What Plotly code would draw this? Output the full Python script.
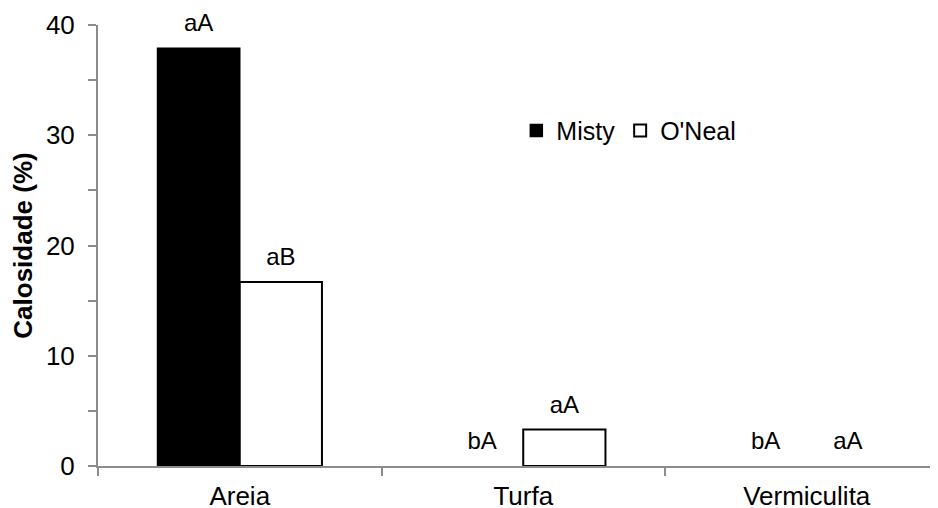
import plotly.graph_objects as go

categories = ["Areia", "Turfa", "Vermiculita"]
misty = [37.9, 0, 0]
oneal = [16.7, 3.3, 0]
misty_labels = ["aA", "bA", "bA"]
oneal_labels = ["aB", "aA", "aA"]

FONT = "Liberation Sans, Arial, sans-serif"
GAP = 0.42
AXIS_COLOR = "#8c8c8c"

# hide outlines of zero-height bars (as in the reference)
misty_lw = [1.5 if v > 0 else 0 for v in misty]
oneal_lw = [2 if v > 0 else 0 for v in oneal]

fig = go.Figure()
fig.add_trace(go.Bar(
    x=categories, y=misty, name="Misty", offsetgroup="m",
    marker=dict(color="black", line=dict(color="black", width=misty_lw)),
))
fig.add_trace(go.Bar(
    x=categories, y=oneal, name="O'Neal", offsetgroup="o",
    marker=dict(color="white", line=dict(color="black", width=oneal_lw)),
))
# letter labels above bars, grouped like the bars
for vals, labels, grp in ((misty, misty_labels, "m"), (oneal, oneal_labels, "o")):
    fig.add_trace(go.Scatter(
        x=categories, y=vals, text=labels, mode="markers+text",
        textposition="top center", offsetgroup=grp,
        showlegend=False, marker=dict(size=16, opacity=0), cliponaxis=False,
        hoverinfo="skip", textfont=dict(size=24, color="black", family=FONT),
    ))

# the page body adds an 8px offset, so the figure is 8px smaller than the window
fig.update_layout(
    width=930, height=500,
    margin=dict(l=90, r=0, t=17, b=42),
    paper_bgcolor="white", plot_bgcolor="white",
    barmode="group", bargap=GAP, bargroupgap=0,
    scattermode="group", scattergap=GAP,
    font=dict(family=FONT, size=24, color="black"),
    legend=dict(
        orientation="h", x=0.498, xanchor="left", y=0.76, yanchor="middle",
        font=dict(size=25, color="black", family=FONT),
        bgcolor="rgba(0,0,0,0)", itemwidth=30,
    ),
)
fig.update_xaxes(
    type="category", range=[-0.5, 2.463], automargin=False,
    showline=True, linecolor=AXIS_COLOR, linewidth=2,
    ticks="outside", tickson="boundaries", ticklen=8, tickcolor=AXIS_COLOR, tickwidth=2,
    showgrid=False, zeroline=False,
    tickfont=dict(size=26, color="black", family=FONT),
    ticklabelstandoff=6,
)
fig.update_yaxes(
    range=[0, 40], dtick=10, tick0=0, automargin=False,
    showline=True, linecolor=AXIS_COLOR, linewidth=2,
    ticks="outside", ticklen=8, tickcolor=AXIS_COLOR, tickwidth=2,
    minor=dict(dtick=5, ticks="outside", ticklen=8, tickcolor=AXIS_COLOR, tickwidth=2, showgrid=False),
    showgrid=False, zeroline=False,
    tickfont=dict(size=26, color="black", family=FONT),
    ticklabelstandoff=8,
    title=dict(text="<b>Calosidade (%)</b>", font=dict(size=26, color="black", family=FONT), standoff=7),
)

fig.write_html("out.html")
